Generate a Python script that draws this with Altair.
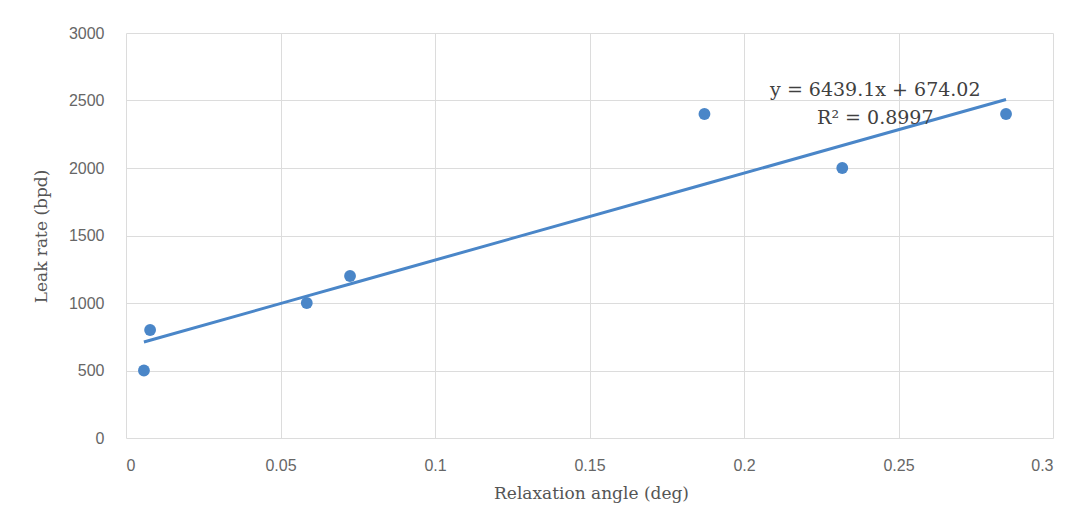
import altair as alt
import pandas as pd

angle = [0.0058, 0.0078, 0.0585, 0.0725, 0.1872, 0.2318, 0.2848]
leak = [500, 800, 1000, 1200, 2400, 2000, 2400]

# trend line coefficients as printed on the chart
slope = 6439.1
intercept = 674.02

ann_x = [0.2425, 0.2425]
ann_y = [2578, 2372]
ann_text = ["y = 6439.1x + 674.02", "R² = 0.8997"]

df = pd.DataFrame({"angle": angle, "leak": leak})
ann = pd.DataFrame({"x": ann_x, "y": ann_y, "t": ann_text})

blue = "#4a86c8"
xs = alt.Scale(domain=[0, 0.3], nice=False)
ys = alt.Scale(domain=[0, 3000], nice=False)

xenc = alt.X("angle:Q", scale=xs, axis=alt.Axis(
    title="Relaxation angle (deg)", values=[0, 0.05, 0.1, 0.15, 0.2, 0.25, 0.3],
    format="~g", labelPadding=19, titleX=465, titleY=47))
yenc = alt.Y("leak:Q", scale=ys, axis=alt.Axis(
    title="Leak rate (bpd)", values=[0, 500, 1000, 1500, 2000, 2500, 3000],
    format="d", labelPadding=22, titleX=-76, titleY=203))

pts = alt.Chart(df).mark_circle(size=140, color=blue, opacity=1).encode(x=xenc, y=yenc)

line = alt.Chart(df).transform_calculate(
    fit=f"{slope} * datum.angle + {intercept}"
).mark_line(color=blue, strokeWidth=3).encode(
    x=alt.X("angle:Q", scale=xs), y=alt.Y("fit:Q", scale=ys), order="angle:Q")

txt = alt.Chart(ann).mark_text(font="DejaVu Serif", fontSize=19, color="#404040").encode(
    x=alt.X("x:Q", scale=xs), y=alt.Y("y:Q", scale=ys), text="t:N")

chart = alt.layer(line, pts, txt).properties(
    width=927, height=405,
    autosize=alt.AutoSizeParams(type="none"),
    padding={"left": 118, "top": 25, "right": 20, "bottom": 68},
).configure_view(stroke=None).configure_axis(
    grid=True, gridColor="#dcdcdc", gridWidth=1, domain=False, ticks=False,
    labelFont="Liberation Sans", labelFontSize=16, labelColor="#666666",
    titleFont="DejaVu Serif", titleFontSize=17, titleColor="#555555", titleFontWeight="normal",
)

chart.save("out.html", embed_options={"renderer": "svg", "actions": False})
